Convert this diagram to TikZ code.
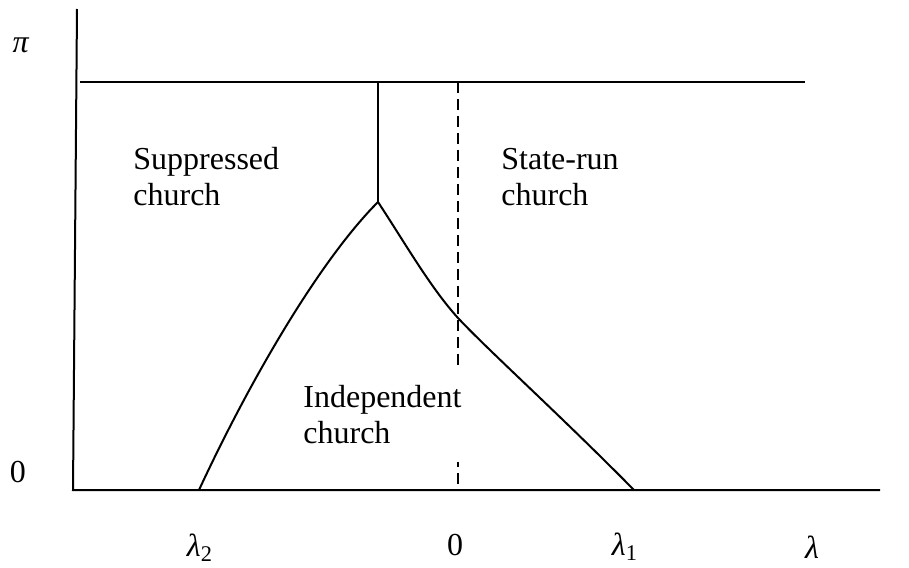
\documentclass[tikz,border=0pt]{standalone}
\usepackage{fontspec}
\setmainfont{Liberation Serif}[Ligatures=TeX]
\usepackage{tikz}
\usetikzlibrary{positioning}

\begin{document}
\begin{tikzpicture}[x=0.5pt,y=-0.5pt,
  every node/.style={font=\fontsize{16}{18}\selectfont},
  region/.style={align=left,inner sep=0pt,anchor=north west},
  axlab/.style={inner sep=0pt},
  curve/.style={draw=black,line width=1pt},
  guide/.style={draw=black,line width=1pt,dash pattern=on 5.5pt off 3pt}]
\useasboundingbox (0,0) rectangle (909,567);
% axes and boundaries
\coordinate (o) at (73,490);
\coordinate (ytop) at (77,9);
\coordinate (xend) at (880,490);
\coordinate (tl) at (80,82);
\coordinate (tr) at (805,82);
\coordinate (kinktop) at (378,82);
\coordinate (kink) at (378,202);
\coordinate (dtop) at (458,82);
\coordinate (dbot) at (458,490);
\coordinate (cross) at (458,318);
\coordinate (l2) at (199,490);
\coordinate (l1) at (634,490);
\draw[curve] (ytop) -- (o) -- (xend);
\draw[curve] (tl) -- (tr);
\draw[guide] (dtop) -- (dbot);
\draw[curve] (kinktop) -- (kink);
\draw[curve] (l2) .. controls (250,380) and (320,260) .. (kink);
\draw[curve] (kink) .. controls (405,243) and (430,287) .. (cross)
  .. controls (490,352) and (560,415) .. (l1);
% regions
\node[region] (supp) at (133,147) {Suppressed\\church};
\node[region] (state) at (501,148) {State-run\\church};
\node[region,fill=white,inner xsep=1pt,inner ysep=9pt] (indep) at (301,367) {Independent\\church};
% axis labels
\node[axlab] (pi) at (21,45) {\textit{π}};
\node[axlab] (zero) at (18,472) {0};
\node[axlab] (lamtwo) at (200,548) {\textit{λ}\textsubscript{2}};
\node[axlab] (zerox) at (455,545) {0};
\node[axlab] (lamone) at (625,547) {\textit{λ}\textsubscript{1}};
\node[axlab] (lam) at (812,547) {\textit{λ}};
\end{tikzpicture}
\end{document}
